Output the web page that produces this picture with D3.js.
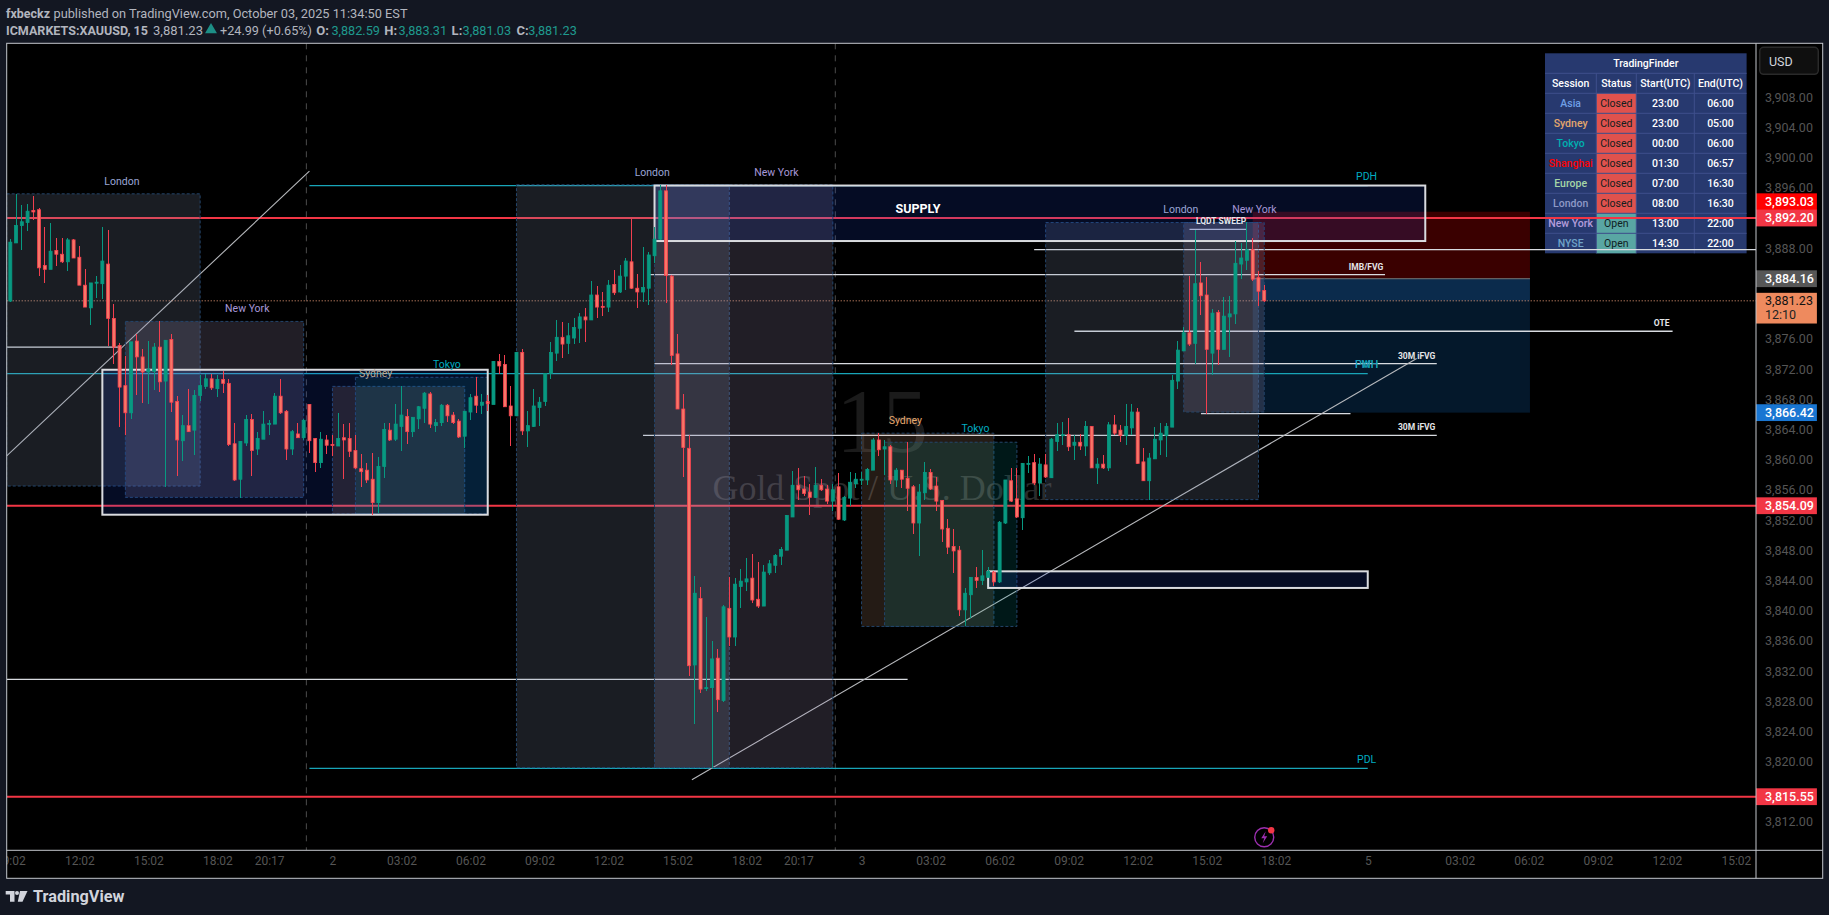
<!DOCTYPE html>
<html>
<head>
<meta charset="utf-8">
<script src="https://cdnjs.cloudflare.com/ajax/libs/d3/7.8.5/d3.min.js"></script>
<style>
html,body{margin:0;padding:0;background:#131722;overflow:hidden}
svg{display:block}
text{font-family:Roboto,"Noto Sans",sans-serif}
</style>
</head>
<body>
<svg id="c" width="1829" height="915"></svg>
<script>
// ---------- OHLC values, one entry per 15-minute bar ----------
const opens=[3881.2,3888.9,3891.2,3891.6,3893.2,3893.3,3885.9,3885.4,3887.9,3887.4,3886.4,3889.3,3887.0,3883.3,3880.3,3883.6,3883.5,3886.1,3878.9,3875.3,3870.0,3866.4,3875.9,3873.8,3871.8,3871.9,3875.1,3870.6,3876.1,3867.9,3862.7,3864.7,3864.1,3868.7,3869.9,3870.9,3869.6,3870.8,3870.3,3862.3,3857.6,3862.4,3865.5,3861.6,3862.9,3864.9,3864.9,3868.6,3866.6,3861.6,3863.6,3863.1,3867.5,3863.0,3859.8,3862.8,3862.2,3862.0,3863.1,3863.0,3861.4,3859.0,3858.8,3857.6,3854.5,3859.3,3864.1,3862.9,3864.6,3865.9,3863.9,3865.6,3867.0,3868.9,3864.7,3865.1,3867.4,3866.1,3865.3,3863.3,3866.5,3868.6,3867.4,3867.9,3867.5,3873.2,3872.8,3867.3,3866.0,3874.4,3864.0,3864.6,3867.1,3867.9,3871.6,3874.3,3876.4,3875.6,3876.3,3877.6,3879.1,3878.7,3882.0,3880.5,3880.4,3883.4,3882.4,3884.5,3886.4,3882.9,3882.4,3882.9,3887.2,3889.4,3895.8,3884.5,3874.2,3866.9,3861.7,3833.0,3841.8,3829.9,3830.0,3833.9,3828.3,3840.5,3836.7,3843.4,3844.0,3844.5,3841.7,3840.8,3845.2,3846.2,3847.4,3848.2,3852.6,3856.8,3856.3,3855.9,3855.2,3856.8,3856.3,3854.7,3856.6,3852.2,3855.1,3857.0,3857.5,3857.5,3858.8,3862.8,3861.6,3861.9,3857.5,3858.8,3857.7,3856.6,3851.8,3855.8,3858.5,3856.7,3854.8,3851.1,3848.7,3848.2,3840.3,3842.3,3844.6,3844.2,3844.6,3845.3,3844.0,3851.8,3857.4,3855.0,3852.5,3859.7,3859.8,3857.1,3859.5,3857.8,3862.6,3863.4,3863.5,3862.1,3862.5,3862.0,3864.6,3859.1,3859.6,3859.1,3864.8,3864.1,3863.4,3864.4,3866.5,3859.9,3857.4,3860.3,3862.8,3863.4,3864.5,3870.6,3874.6,3877.0,3875.6,3883.6,3882.0,3874.3,3879.7,3874.8,3879.1,3879.5,3886.1,3886.6,3888.0,3884.3,3882.59];
const highs=[3889.4,3895.4,3893.9,3894.1,3895.1,3893.5,3891.0,3891.5,3889.5,3889.5,3889.5,3889.4,3888.5,3885.4,3883.6,3884.5,3891.0,3890.6,3880.8,3875.6,3873.9,3875.8,3876.8,3874.9,3875.9,3875.7,3878.5,3876.0,3876.8,3868.6,3866.1,3869.6,3869.4,3871.4,3871.5,3871.5,3871.4,3871.9,3870.9,3865.0,3862.7,3866.1,3866.2,3863.9,3866.6,3865.5,3869.0,3870.9,3866.8,3864.1,3865.0,3865.6,3867.5,3863.0,3863.8,3863.5,3863.4,3866.4,3864.9,3865.1,3863.5,3861.0,3859.8,3861.1,3860.6,3865.0,3865.1,3867.5,3869.9,3866.9,3865.8,3867.3,3869.2,3869.1,3865.6,3867.5,3867.5,3866.5,3865.6,3866.7,3868.9,3871.1,3868.9,3868.7,3873.3,3874.2,3874.1,3870.0,3874.4,3874.8,3866.7,3869.5,3868.5,3871.6,3875.8,3878.7,3878.4,3878.3,3879.0,3879.6,3880.3,3883.8,3883.2,3882.4,3884.0,3885.3,3886.0,3886.9,3892.1,3884.8,3888.3,3887.7,3891.0,3896.6,3896.6,3884.6,3876.8,3868.9,3863.5,3844.8,3843.3,3839.3,3836.2,3835.1,3840.9,3844.6,3844.5,3845.7,3847.2,3847.7,3846.6,3846.2,3846.9,3847.7,3848.6,3852.8,3858.7,3859.1,3858.0,3857.0,3859.2,3857.6,3856.8,3857.0,3858.4,3855.4,3858.5,3858.4,3858.5,3859.1,3863.0,3863.7,3862.8,3862.1,3859.1,3858.8,3862.5,3856.8,3857.0,3859.9,3858.9,3857.9,3854.8,3852.3,3851.0,3848.7,3843.2,3844.6,3846.0,3848.2,3846.0,3845.4,3852.1,3857.5,3859.1,3859.1,3859.8,3860.7,3860.9,3860.4,3860.9,3863.0,3865.0,3865.2,3865.7,3863.5,3863.6,3865.3,3864.6,3860.4,3860.8,3865.2,3866.1,3864.8,3867.6,3867.6,3867.0,3861.7,3861.1,3864.5,3865.0,3865.0,3871.4,3875.9,3877.8,3884.5,3890.6,3886.4,3884.4,3880.1,3880.0,3881.7,3881.9,3889.2,3888.9,3891.7,3889.6,3885.2,3883.31];
const lows=[3881.1,3888.9,3888.0,3890.5,3891.9,3884.5,3883.6,3885.4,3885.9,3886.2,3885.2,3886.9,3883.3,3880.4,3878.0,3881.6,3881.5,3875.3,3872.8,3864.5,3863.5,3865.6,3868.8,3867.7,3867.5,3869.4,3869.2,3856.6,3866.5,3858.0,3860.0,3863.8,3860.8,3868.0,3869.5,3869.4,3868.5,3869.0,3862.0,3857.4,3855.1,3862.0,3858.0,3860.8,3862.9,3863.5,3864.9,3866.2,3860.2,3860.8,3863.0,3862.8,3861.1,3858.6,3859.1,3861.0,3860.7,3862.0,3857.6,3860.5,3859.0,3856.6,3857.1,3852.8,3853.1,3857.8,3862.7,3862.7,3861.4,3862.2,3863.2,3864.2,3865.0,3864.4,3863.9,3864.7,3865.2,3864.9,3863.1,3861.8,3865.5,3866.4,3866.2,3866.6,3867.5,3871.5,3867.2,3862.0,3866.0,3863.4,3861.9,3864.5,3864.6,3867.3,3870.9,3873.2,3873.7,3874.2,3875.5,3875.6,3875.8,3878.7,3878.9,3879.2,3879.7,3882.0,3882.3,3882.6,3882.8,3880.3,3881.1,3880.7,3886.2,3889.3,3881.0,3872.7,3866.9,3857.9,3831.6,3825.2,3829.3,3829.6,3819.3,3826.8,3828.1,3835.5,3835.5,3840.5,3842.8,3841.2,3840.5,3840.8,3844.9,3845.2,3846.2,3848.2,3852.6,3854.8,3855.4,3852.9,3855.1,3856.0,3854.3,3853.4,3852.2,3852.1,3854.0,3856.4,3856.8,3856.8,3858.8,3860.7,3858.1,3857.0,3856.6,3856.4,3853.4,3850.3,3847.4,3854.8,3856.2,3853.4,3849.3,3847.7,3845.2,3839.5,3838.1,3839.2,3843.2,3843.6,3844.6,3843.4,3843.8,3851.7,3854.6,3852.5,3850.9,3858.4,3856.9,3855.4,3857.8,3857.8,3861.3,3862.1,3861.3,3860.1,3861.5,3860.7,3859.1,3857.0,3858.9,3858.7,3863.4,3862.5,3862.1,3863.4,3859.6,3857.4,3854.8,3860.3,3860.8,3860.5,3864.5,3869.5,3874.6,3875.2,3872.8,3879.3,3866.3,3871.4,3872.7,3874.8,3873.8,3878.2,3884.1,3885.3,3883.8,3880.5,3881.03];
const closes=[3889.0,3891.2,3891.7,3893.1,3893.0,3885.6,3885.4,3887.8,3887.4,3886.4,3889.3,3886.9,3883.3,3880.4,3883.6,3883.7,3886.5,3878.9,3875.1,3869.8,3866.4,3875.8,3873.8,3871.8,3872.2,3875.1,3870.5,3876.0,3867.8,3862.8,3864.7,3863.9,3868.7,3870.0,3870.9,3869.7,3870.8,3870.3,3862.2,3857.5,3862.6,3865.5,3861.4,3863.0,3864.9,3865.0,3868.6,3866.4,3861.6,3863.9,3863.1,3865.4,3862.7,3859.8,3862.9,3862.1,3862.1,3863.0,3862.8,3861.3,3859.1,3858.6,3857.5,3854.5,3859.3,3864.2,3862.8,3864.9,3866.1,3863.9,3865.8,3867.2,3869.0,3864.9,3865.1,3867.4,3866.0,3865.1,3863.2,3866.6,3868.4,3867.4,3867.8,3867.6,3873.2,3872.6,3867.2,3866.0,3874.4,3864.0,3864.7,3867.3,3867.8,3871.6,3874.4,3876.4,3875.5,3876.6,3877.7,3879.1,3878.7,3882.0,3880.4,3880.4,3883.3,3882.3,3884.5,3886.5,3882.9,3882.4,3883.0,3887.3,3889.4,3895.8,3884.6,3874.0,3866.9,3861.8,3832.9,3842.5,3829.8,3830.0,3833.8,3828.4,3840.7,3836.7,3843.7,3844.1,3844.4,3841.6,3840.8,3845.3,3846.4,3847.5,3848.3,3852.8,3856.8,3856.2,3855.7,3855.2,3856.8,3856.2,3854.7,3856.2,3852.3,3855.2,3857.2,3857.6,3857.6,3858.9,3862.8,3861.5,3861.9,3857.5,3858.8,3857.6,3856.4,3851.8,3855.9,3858.5,3856.3,3854.7,3851.0,3848.6,3848.1,3840.3,3842.5,3844.6,3844.2,3844.8,3845.4,3844.0,3851.9,3857.5,3854.7,3852.6,3859.7,3859.7,3857.1,3859.6,3857.9,3862.9,3863.5,3863.5,3861.9,3862.5,3862.0,3864.6,3859.1,3859.6,3859.1,3864.8,3863.7,3863.4,3864.6,3866.5,3859.7,3857.4,3860.4,3862.9,3863.7,3864.6,3870.7,3874.7,3877.0,3875.5,3883.5,3881.9,3874.8,3879.6,3874.8,3879.2,3879.5,3886.2,3886.9,3888.0,3884.1,3882.5,3881.23];

// ---------- axis values ----------
const timeTickBars=[0,12,24,36,45,56,68,80,92,104,116,128,137,148,160,172,184,196,208,220,236,252,264,276,288,300];
const timeTickLabels=["09:02","12:02","15:02","18:02","20:17","2","03:02","06:02","09:02","12:02","15:02","18:02","20:17","3","03:02","06:02","09:02","12:02","15:02","18:02","5","03:02","06:02","09:02","12:02","15:02"];
const priceTicks=[3908,3904,3900,3896,3888,3876,3872,3868,3864,3860,3856,3852,3848,3844,3840,3836,3832,3828,3824,3820,3812];

// ---------- session table ----------
const tableTitle="TradingFinder";
const tableHead=["Session","Status","Start(UTC)","End(UTC)"];
const sessionNames=["Asia","Sydney","Tokyo","Shanghai","Europe","London","New York","NYSE"];
const sessionStatus=["Closed","Closed","Closed","Closed","Closed","Closed","Open","Open"];
const sessionStart=["23:00","23:00","00:00","01:30","07:00","08:00","13:00","14:30"];
const sessionEnd=["06:00","05:00","06:00","06:57","16:30","16:30","22:00","22:00"];
const sessionColors=["#6f9fe6","#e3a66c","#00b0b0","#ff0000","#a5d6a7","#8e99c6","#b39ddb","#6fa3c8"];

// ---------- drawings, in bar index and price ----------
const redLevels=[3892.20,3854.09,3815.55];
const cyanLines=[[52,236,3896.5],[-0.63,236,3871.6],[52,236,3819.3]];
const whiteLines=[[-0.63,19,3875.1],[111,239,3884.7],[112,248,3872.9],[110,248,3863.4],[178,303.5,3888.0],[185,289,3877.2],[207,233,3866.3],[-0.63,156,3831.1],[205,215,3890.7]];
const trendLines=[[-0.63,3860.7,52,3898.4],[118.5,3817.8,244.5,3873.6]];
const separators=[51.47,143.43];
// kind, first bar, last bar, top price, bottom price
const sessionBoxes=[
 ["lon",-0.63,33,3895.4,3856.7],["ny",20,51,3878.5,3855.2],["syd",56,79,3869.9,3853.0],["tok",60,83,3871.1,3853.0],
 ["lon",88,125,3896.6,3819.4],["ny",112,143,3896.6,3819.4],["syd",148,171,3863.7,3838.1],["tok",152,175,3862.5,3838.1],
 ["lon",180,217,3891.6,3854.9],["ny",204,218,3891.6,3866.5]];
const zoneBoxes=[[16,83,3872.1,3852.9],[112,246,3896.5,3889.15],[170,236,3845.4,3843.2]];
const posBar=[216,264.2];
const posLevels=[3893.03,3884.16,3881.23,3866.42];
const sessionLabels=[["London",19.4,3897.1,"#9aa5d6"],["New York",41.2,3880.3,"#a798d8"],["Sydney",63.5,3871.7,"#b9aa98"],["Tokyo",75.9,3872.9,"#00acc1"],
 ["London",111.6,3898.3,"#9aa5d6"],["New York",133.2,3898.3,"#a798d8"],["Sydney",155.6,3865.4,"#e8a96e"],["Tokyo",167.8,3864.3,"#00acc1"],
 ["London",203.5,3893.4,"#9aa5d6"],["New York",216.3,3893.4,"#a798d8"],["PDH",235.8,3897.7,"#00acc1"],["PDL",235.8,3820.5,"#00acc1"],["PWH",235.8,3872.8,"#00acc1"],["PMH",235.8,3872.8,"#26a0b8"]];
const noteLabels=[["LQDT SWEEP",210.5,3891.8],["IMB/FVG",235.7,3885.7],["30M iFVG",244.5,3873.9],["30M iFVG",244.5,3864.5],["OTE",287.1,3878.3]];
const priceTags=[[3893.03,"3,893.03","#ff0000","#fff",-10],[3892.20,"3,892.20","#f23645","#fff",0],[3884.16,"3,884.16","#575757","#fff",0],[3866.42,"3,866.42","#1976d2","#fff",0],[3854.09,"3,854.09","#f23645","#fff",0],[3815.55,"3,815.55","#f23645","#fff",0]];
const lastPrice=3881.23, lastText="3,881.23", countdown="12:10";

// ---------- frame ----------
const L=6.7,T=43.3,R=1756,B=850.3,OR=1822.7,OB=878.3;
const x=d3.scaleLinear().domain([-0.63,303.5]).range([L,R]);
const y=d3.scaleLinear().domain([3808.45,3915.34]).range([B,T]);
const svg=d3.select("#c");
svg.append("rect").attr("width",1829).attr("height",915).attr("fill","#131722");
svg.append("rect").attr("x",L).attr("y",T).attr("width",OR-L).attr("height",OB-T).attr("fill","#000");
const defs=svg.append("defs");
defs.append("clipPath").attr("id","plot").append("rect").attr("x",L).attr("y",T).attr("width",R-L).attr("height",B-T);
defs.append("clipPath").attr("id","tclip").append("rect").attr("x",L).attr("y",B).attr("width",R-L).attr("height",OB-B);

// header
const head=svg.append("g").attr("font-size",13).attr("fill","#b2b5be");
const hd=(t,xp,yp,w,o={})=>{const e=head.append("text").attr("x",xp).attr("y",yp).text(t);
 if(w)e.attr("textLength",w).attr("lengthAdjust","spacingAndGlyphs");
 if(o.bold)e.attr("font-weight",700);if(o.fill)e.attr("fill",o.fill);return e;};
hd("fxbeckz",6,17.5,44,{bold:true});
hd("published on TradingView.com, October 03, 2025 11:34:50 EST",53.5,17.5,354);
hd("ICMARKETS:XAUUSD, 15",6,34.5,142,{bold:true});
hd("3,881.23",153,34.5,50);
head.append("path").attr("d",d3.symbol(d3.symbolTriangle,62)()).attr("transform","translate(211,29.8)").attr("fill","#1d8f86");
hd("+24.99 (+0.65%)",220,34.5,92);
const teal="#1f9a8e";
[["O:",316.3,"3,882.59",331.4],["H:",384.3,"3,883.31",398.6],["L:",451.6,"3,881.03",462.6],["C:",516.4,"3,881.23",528.3]].forEach(a=>{
 hd(a[0],a[1],34.5,null,{bold:true});hd(a[2],a[3],34.5,48.5,{fill:teal});});

// ---------- plot ----------
const plot=svg.append("g").attr("clip-path","url(#plot)");
// watermark
plot.append("text").attr("x",882).attr("y",452).attr("text-anchor","middle").style("font-family","'Liberation Serif',serif").attr("font-size",92).attr("fill","#1b1b1b").text("15");
plot.append("text").attr("x",882).attr("y",500).attr("text-anchor","middle").style("font-family","'Liberation Serif',serif").attr("font-size",36).attr("fill","#2b2b2b").attr("textLength",339).text("Gold Spot / U.S. Dollar");

// table
const colEdges=[1545,1596.3,1636.3,1694.3,1746.6], rowH=20, tTop=53.3;
const tb=plot.append("g").attr("font-size",10.5).attr("font-weight",500).attr("text-anchor","middle");
tb.append("rect").attr("x",colEdges[0]).attr("y",tTop).attr("width",colEdges[4]-colEdges[0]).attr("height",rowH*10).attr("fill","#27396f");
const rows=d3.range(8);
tb.selectAll(".st").data(rows).join("rect").attr("x",colEdges[1]).attr("y",r=>tTop+rowH*(r+2)).attr("width",colEdges[2]-colEdges[1]).attr("height",rowH)
  .attr("fill",r=>sessionStatus[r]==="Open"?"#59a6a3":"#e0524d");
d3.range(1,10).forEach(r=>tb.append("line").attr("x1",colEdges[0]).attr("x2",colEdges[4]).attr("y1",tTop+rowH*r).attr("y2",tTop+rowH*r).attr("stroke","#3f4f8d"));
[1,2,3].forEach(c=>tb.append("line").attr("x1",colEdges[c]).attr("x2",colEdges[c]).attr("y1",tTop+rowH).attr("y2",tTop+rowH*10).attr("stroke","#3f4f8d"));
const cellX=c=>(colEdges[c]+colEdges[c+1])/2, cellY=r=>tTop+rowH*r+rowH/2+3.6;
tb.append("text").attr("x",(colEdges[0]+colEdges[4])/2).attr("y",cellY(0)).attr("fill","#fff").text(tableTitle);
tb.selectAll(".h").data(tableHead).join("text").attr("x",(d,i)=>cellX(i)).attr("y",cellY(1)).attr("fill","#fff").text(d=>d);
tb.selectAll(".a").data(sessionNames).join("text").attr("x",cellX(0)).attr("y",(d,i)=>cellY(i+2)).attr("fill",(d,i)=>sessionColors[i]).text(d=>d);
tb.selectAll(".b").data(sessionStatus).join("text").attr("x",cellX(1)).attr("y",(d,i)=>cellY(i+2)).attr("fill","#10201f").attr("font-weight",400).text(d=>d);
tb.selectAll(".c").data(sessionStart).join("text").attr("x",cellX(2)).attr("y",(d,i)=>cellY(i+2)).attr("fill","#fff").text(d=>d);
tb.selectAll(".d").data(sessionEnd).join("text").attr("x",cellX(3)).attr("y",(d,i)=>cellY(i+2)).attr("fill","#fff").text(d=>d);

// separators
plot.selectAll(".sep").data(separators).join("line").attr("x1",d=>x(d)).attr("x2",d=>x(d))
  .attr("y1",T).attr("y2",B).attr("stroke","#4c4c4c").attr("stroke-dasharray","6 6");
// position tool
const posFill=["#3a0000","#0b2b4c","#04182b"];
plot.selectAll(".pos").data(posFill).join("rect").attr("x",x(posBar[0])).attr("width",x(posBar[1])-x(posBar[0]))
  .attr("y",(d,i)=>y(posLevels[i])).attr("height",(d,i)=>y(posLevels[i+1])-y(posLevels[i])).attr("fill",d=>d);
plot.append("line").attr("x1",x(posBar[0])).attr("x2",x(posBar[1])).attr("y1",y(posLevels[1])).attr("y2",y(posLevels[1])).attr("stroke","#777");
// levels
plot.selectAll(".red").data(redLevels).join("line").attr("x1",L).attr("x2",R).attr("y1",d=>y(d)).attr("y2",d=>y(d)).attr("stroke","#f23645").attr("stroke-width",2);
plot.selectAll(".cy").data(cyanLines).join("line").attr("x1",d=>x(d[0])).attr("x2",d=>x(d[1])).attr("y1",d=>y(d[2])).attr("y2",d=>y(d[2])).attr("stroke","#18a5b8").attr("stroke-width",1.2);
plot.selectAll(".wh").data(whiteLines).join("line").attr("x1",d=>x(d[0])).attr("x2",d=>x(d[1])).attr("y1",d=>y(d[2])).attr("y2",d=>y(d[2])).attr("stroke","#d8dbe0").attr("stroke-width",1.3);
plot.selectAll(".tr").data(trendLines).join("line").attr("x1",d=>x(d[0])).attr("y1",d=>y(d[1])).attr("x2",d=>x(d[2])).attr("y2",d=>y(d[3])).attr("stroke","#b7b9bd").attr("stroke-width",1.1);
plot.append("line").attr("x1",L).attr("x2",R).attr("y1",y(lastPrice)).attr("y2",y(lastPrice)).attr("stroke","#f2a07b").attr("stroke-dasharray","1 2");
// sessions
const sFill={lon:"rgba(130,145,175,.2)",ny:"rgba(165,150,190,.2)",syd:"rgba(225,170,130,.16)",tok:"rgba(0,170,170,.14)"};
plot.selectAll(".ses").data(sessionBoxes).join("rect").attr("x",d=>x(d[1])).attr("width",d=>x(d[2])-x(d[1])).attr("y",d=>y(d[3])).attr("height",d=>y(d[4])-y(d[3]))
  .attr("fill",d=>sFill[d[0]]).attr("stroke","#23456a").attr("stroke-dasharray","3 2");
// zones
plot.selectAll(".zone").data(zoneBoxes).join("rect").attr("x",d=>x(d[0])).attr("width",d=>x(d[1])-x(d[0])).attr("y",d=>y(d[2])).attr("height",d=>y(d[3])-y(d[2]))
  .attr("fill","rgba(33,80,243,.15)").attr("stroke","#d9dbdf").attr("stroke-width",2);
// text labels
plot.selectAll(".sl").data(sessionLabels).join("text").attr("x",d=>x(d[1])).attr("y",d=>y(d[2])+3.8).attr("text-anchor","middle").attr("font-size",10.5).attr("fill",d=>d[3]).text(d=>d[0]);
plot.selectAll(".nl").data(noteLabels).join("text").attr("x",d=>x(d[1])).attr("y",d=>y(d[2])+3).attr("text-anchor","middle").attr("font-size",8.5).attr("font-weight",700).attr("fill","#e4e5e8").text(d=>d[0]);
plot.append("text").attr("x",x(157.8)).attr("y",y(3893.4)+4.5).attr("text-anchor","middle").attr("font-size",12.5).attr("font-weight",700).attr("fill","#fff").text("SUPPLY");

// candles
const bars=d3.range(opens.length);
const cg=plot.append("g");
cg.selectAll(".w").data(bars).join("line").attr("x1",i=>x(i)).attr("x2",i=>x(i)).attr("y1",i=>y(highs[i])).attr("y2",i=>y(lows[i]))
  .attr("stroke",i=>closes[i]>=opens[i]?"#089981":"#f23f4f").attr("stroke-width",1).attr("shape-rendering","crispEdges");
cg.selectAll(".b").data(bars).join("rect").attr("x",i=>x(i)-1.5).attr("width",3)
  .attr("y",i=>y(Math.max(opens[i],closes[i]))).attr("height",i=>Math.max(1,Math.abs(y(opens[i])-y(closes[i]))))
  .attr("fill",i=>closes[i]>=opens[i]?"#089981":"#f87667").attr("stroke",i=>closes[i]>=opens[i]?"#089981":"#f7414f").attr("stroke-width",.8);

// lightning badge
const badgeBar=218, badgeY=837.3;
const bd=svg.append("g").attr("transform",`translate(${x(badgeBar)},${badgeY})`);
bd.append("circle").attr("r",9.5).attr("fill","none").attr("stroke","#9c2fb0").attr("stroke-width",1.4);
bd.append("path").attr("d","M1.5,-6 L-3,1 L0,1 L-1.5,6 L3,-1 L0,-1 Z").attr("fill","#9c2fb0");
bd.append("circle").attr("cx",7).attr("cy",-7).attr("r",3.2).attr("fill","#f23645");

// ---------- axes ----------
const axisCol="#555555";
const yAxis=d3.axisRight(y).tickValues(priceTicks).tickFormat(d3.format(",.2f")).tickSize(0).tickPadding(9);
const yg=svg.append("g").attr("transform",`translate(${R},0)`).call(yAxis);
yg.select(".domain").remove();
yg.selectAll("text").attr("fill",axisCol).attr("font-size",12.5).style("font-family","Roboto").attr("dy","0.2em");
const xAxis=d3.axisBottom(x).tickValues(timeTickBars).tickFormat((d,i)=>timeTickLabels[i]).tickSize(0).tickPadding(6);
const xg=svg.append("g").attr("clip-path","url(#tclip)").append("g").attr("transform",`translate(0,${B})`).call(xAxis);
xg.select(".domain").remove();
xg.selectAll("text").attr("fill",axisCol).attr("font-size",12).style("font-family","Roboto");

// price tags
const tagW=60.9, tagH=16.8;
const tags=svg.append("g");
tags.selectAll("rect").data(priceTags).join("rect").attr("x",R).attr("width",tagW).attr("y",d=>y(d[0])+d[4]-tagH/2).attr("height",tagH).attr("fill",d=>d[2]);
tags.selectAll("text").data(priceTags).join("text").attr("x",R+9).attr("y",d=>y(d[0])+d[4]+4.4).attr("font-size",12.5).attr("font-weight",500).attr("fill",d=>d[3]).text(d=>d[1]);
tags.append("rect").attr("x",R).attr("width",tagW).attr("y",y(lastPrice)-8).attr("height",30.7).attr("fill","#ee8a5e");
tags.append("text").attr("x",R+9).attr("y",y(lastPrice)+4.4).attr("font-size",12.5).attr("fill","#111").text(lastText);
tags.append("text").attr("x",R+9).attr("y",y(lastPrice)+18.6).attr("font-size",12.5).attr("fill","#222").text(countdown);

// USD button
svg.append("rect").attr("x",1759.7).attr("y",47.3).attr("width",58.6).attr("height",27).attr("rx",4).attr("fill","#0f0f0f").attr("stroke","#2a2a2a").attr("stroke-width",1.5);
svg.append("text").attr("x",1769).attr("y",65.5).attr("font-size",12.5).attr("fill","#d1d4dc").text("USD");

// frame lines
const fr="#c3c6cc";
svg.append("rect").attr("x",L).attr("y",T).attr("width",OR-L).attr("height",OB-T).attr("fill","none").attr("stroke",fr).attr("stroke-width",1);
svg.append("line").attr("x1",L).attr("x2",OR).attr("y1",B).attr("y2",B).attr("stroke",fr);
svg.append("line").attr("x1",R).attr("x2",R).attr("y1",T).attr("y2",OB).attr("stroke",fr);

// logo
const lg=svg.append("g").attr("fill","#d1d4dc");
lg.append("path").attr("d","M5.7,891 H14.5 V901.7 H10 V894.6 H5.7 Z");
lg.append("circle").attr("cx",17).attr("cy",893).attr("r",2);
lg.append("path").attr("d","M20,891 H27.5 L22.5,901.7 H17.8 Z");
lg.append("text").attr("x",33).attr("y",902).attr("font-size",16).attr("font-weight",700).attr("textLength",91.5).attr("lengthAdjust","spacingAndGlyphs").text("TradingView");
</script>
</body>
</html>
